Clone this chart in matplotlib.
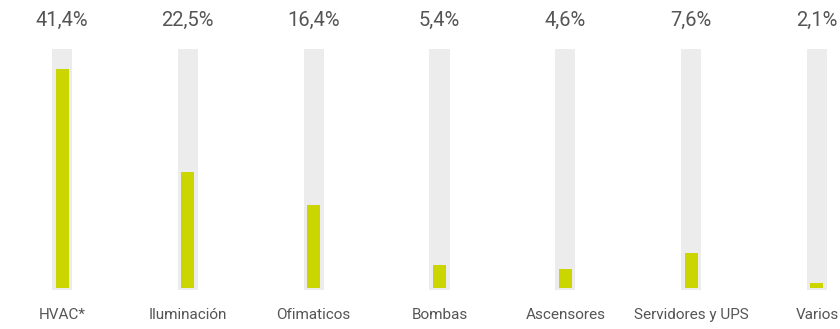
import matplotlib
matplotlib.use('Agg')
import matplotlib.pyplot as plt

categories = ['HVAC*', 'Iluminación', 'Ofimaticos', 'Bombas', 'Ascensores', 'Servidores y UPS', 'Varios']
values = [41.4, 22.5, 16.4, 5.4, 4.6, 7.6, 2.1]
labels = ['41,4%', '22,5%', '16,4%', '5,4%', '4,6%', '7,6%', '2,1%']

base = 1.1       # value axis starts a bit above zero
track_top = 45.1
track_bottom = 0.72

plt.rcParams['font.family'] = ['Roboto', 'DejaVu Sans']

fig = plt.figure(figsize=(8.4, 3.29), dpi=100)
ax = fig.add_axes([0, 0, 1, 1])

x = list(range(len(categories)))
# grey background tracks
ax.bar(x, [track_top - track_bottom] * len(x), bottom=track_bottom, width=0.159,
       color='#ececec', zorder=1)
# green bars
ax.bar(x, [v - base for v in values], bottom=base, width=0.103,
       color='#cbd500', zorder=2)

for i, (lab, cat) in enumerate(zip(labels, categories)):
    ax.text(i, 50.4, lab, ha='center', va='center', fontsize=14.5, color='#555555')
    ax.text(i, -3.79, cat, ha='center', va='center', fontsize=11, color='#555555')

ax.set_xlim(-0.493, 6.183)
ax.set_ylim(-6.36, 54.12)
ax.axis('off')

fig.savefig('out.png', dpi=100, facecolor='white')
